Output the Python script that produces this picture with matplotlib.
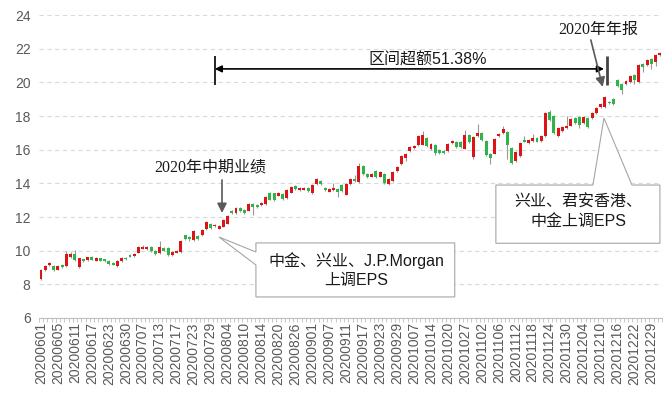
import numpy as np
import pandas as pd
import matplotlib
matplotlib.use('Agg')
import matplotlib.pyplot as plt
from matplotlib.patches import Polygon

plt.rcParams['font.family'] = ['Liberation Sans', 'Noto Sans CJK SC']

# HK trading days, Jun-Dec 2020
hk_holidays = ['2020-06-25', '2020-07-01', '2020-10-01', '2020-10-02',
               '2020-10-13', '2020-10-26', '2020-12-25']
dates = pd.bdate_range('2020-06-01', '2020-12-31')
dates = dates[~dates.isin(pd.to_datetime(hk_holidays))]
labels = list(dates.strftime('%Y%m%d'))

# daily prices
opens = [8.30, 8.85, 9.12, 9.08, 8.88, 9.14, 9.08, 9.60, 9.78, 9.00,
         9.48, 9.44, 9.62, 9.40, 9.54, 9.48, 9.40, 9.26, 9.08, 9.38,
         9.56, 9.76, 9.68, 9.88, 10.12, 10.08, 10.20, 10.00, 9.86, 10.16,
         10.16, 9.74, 9.88, 9.92, 10.92, 10.80, 10.62, 10.88, 10.94, 11.26,
         11.58, 11.44, 11.30, 11.42, 11.60, 12.36, 12.26, 12.52, 12.42, 12.38,
         12.80, 12.74, 12.70, 12.76, 13.40, 13.40, 13.26, 13.34, 13.10, 13.44,
         13.82, 13.60, 13.62, 13.70, 13.40, 13.96, 14.12, 13.74, 13.50, 13.60,
         13.64, 13.88, 13.32, 13.94, 14.24, 14.08, 15.04, 14.54, 14.40, 14.76,
         14.40, 14.58, 13.94, 14.14, 14.74, 15.14, 15.50, 15.90, 16.10, 16.26,
         16.30, 16.70, 16.06, 16.26, 16.00, 15.92, 15.92, 16.40, 16.46, 16.46,
         16.06, 16.86, 15.56, 16.80, 17.00, 16.52, 15.72, 15.76, 16.80, 17.00,
         17.06, 16.08, 15.30, 15.62, 16.56, 16.40, 16.50, 16.72, 16.50, 16.82,
         18.24, 18.02, 16.82, 17.12, 17.28, 17.42, 17.88, 17.96, 17.56, 17.88,
         17.88, 18.16, 18.52, 18.52, 18.84, 19.00, 20.16, 19.88, 19.88, 20.02,
         20.44, 20.02, 21.08, 21.02, 21.36, 21.22, 21.62]
closes = [8.88, 9.08, 9.26, 8.85, 9.08, 9.00, 9.78, 9.78, 9.44, 9.54,
          9.36, 9.60, 9.46, 9.58, 9.40, 9.40, 9.20, 9.16, 9.38, 9.56,
          9.50, 9.64, 9.80, 10.20, 10.24, 10.24, 9.96, 9.80, 10.24, 10.00,
          9.74, 9.92, 10.00, 10.60, 10.68, 10.68, 11.14, 10.72, 11.20, 11.68,
          11.36, 11.50, 11.44, 11.80, 12.06, 12.22, 12.52, 12.38, 12.26, 12.80,
          12.60, 12.62, 12.84, 13.20, 13.04, 13.02, 13.40, 13.06, 13.60, 13.76,
          13.66, 13.74, 13.74, 13.54, 13.90, 14.24, 13.94, 13.60, 13.64, 13.70,
          13.46, 13.56, 13.94, 14.28, 14.12, 15.04, 14.58, 14.38, 14.54, 14.40,
          14.66, 14.04, 14.24, 14.70, 15.00, 15.64, 15.76, 16.14, 16.22, 16.84,
          16.90, 16.22, 16.36, 15.82, 15.78, 15.78, 16.32, 16.50, 16.18, 16.14,
          16.86, 16.46, 16.76, 17.02, 16.60, 15.66, 15.52, 16.66, 16.96, 17.20,
          16.26, 15.22, 15.88, 16.42, 16.48, 16.60, 16.72, 16.48, 16.80, 18.16,
          17.76, 17.02, 17.28, 17.36, 17.42, 17.82, 17.56, 17.48, 17.92, 17.36,
          18.16, 18.48, 18.72, 19.12, 18.76, 18.72, 19.76, 19.56, 20.08, 20.36,
          20.12, 21.02, 20.92, 21.32, 21.08, 21.62, 21.76]
highs = [8.92, 9.12, 9.32, 9.12, 9.12, 9.18, 10.00, 9.90, 10.04, 9.58,
         9.52, 9.64, 9.66, 9.62, 9.58, 9.52, 9.44, 9.30, 9.42, 9.60,
         9.62, 9.82, 9.86, 10.28, 10.36, 10.30, 10.26, 10.06, 10.58, 10.22,
         10.20, 9.96, 10.06, 10.64, 10.96, 10.86, 11.20, 10.94, 11.26, 11.74,
         11.64, 11.58, 11.52, 11.86, 12.10, 12.44, 12.58, 12.58, 12.48, 12.86,
         12.86, 12.80, 12.90, 13.26, 13.46, 13.44, 13.46, 13.40, 13.66, 13.82,
         13.88, 13.80, 13.80, 13.76, 13.96, 14.30, 14.18, 13.80, 13.70, 14.02,
         13.70, 13.94, 14.00, 14.34, 14.52, 15.18, 15.10, 14.60, 14.60, 14.82,
         14.72, 14.64, 14.30, 14.76, 15.06, 15.70, 15.82, 16.20, 16.28, 16.90,
         17.10, 16.76, 16.42, 16.32, 16.06, 15.98, 16.38, 16.56, 16.52, 16.52,
         17.16, 16.92, 16.82, 17.52, 17.06, 16.58, 15.78, 16.72, 17.02, 17.40,
         17.12, 16.14, 15.94, 16.48, 16.82, 16.66, 16.92, 16.78, 16.86, 18.22,
         18.36, 18.08, 17.34, 17.42, 18.02, 17.88, 17.94, 18.02, 17.98, 17.94,
         18.22, 18.54, 18.78, 19.18, 18.90, 19.06, 20.22, 19.94, 20.14, 20.42,
         20.50, 21.08, 21.14, 21.38, 21.42, 21.68, 21.82]
lows = [8.25, 8.82, 9.10, 8.82, 8.85, 8.98, 9.05, 9.55, 9.40, 8.96,
        9.32, 9.40, 9.42, 9.38, 9.36, 9.30, 9.16, 9.12, 9.05, 9.34,
        9.46, 9.60, 9.64, 9.84, 10.08, 10.04, 9.92, 9.76, 9.82, 9.96,
        9.70, 9.70, 9.84, 9.88, 10.62, 10.60, 10.58, 10.66, 10.90, 11.22,
        11.30, 11.40, 11.26, 11.38, 11.56, 12.16, 12.20, 12.32, 12.20, 12.34,
        12.10, 12.56, 12.66, 12.72, 13.00, 12.96, 13.22, 13.00, 13.06, 13.40,
        13.60, 13.56, 13.58, 13.50, 13.36, 13.92, 13.88, 13.56, 13.46, 13.56,
        13.20, 13.50, 13.28, 13.90, 14.08, 14.04, 14.52, 14.34, 14.36, 14.34,
        14.36, 13.98, 13.90, 14.10, 14.70, 15.10, 15.30, 15.86, 16.06, 16.22,
        16.26, 16.16, 16.00, 15.66, 15.72, 15.72, 15.88, 16.36, 16.12, 16.08,
        16.02, 16.40, 15.46, 16.76, 16.54, 15.60, 15.16, 15.72, 16.76, 16.96,
        15.46, 15.16, 15.26, 15.58, 16.44, 16.36, 16.46, 16.44, 16.46, 16.78,
        17.70, 16.96, 16.78, 17.08, 17.24, 17.38, 17.50, 17.30, 17.52, 17.30,
        17.84, 18.12, 18.48, 18.48, 18.70, 18.66, 19.70, 19.28, 19.84, 19.98,
        19.90, 19.98, 20.60, 20.98, 20.80, 21.00, 21.58]

RED = '#dc1317'
GREEN = '#2db54a'
GRAY = '#595959'

fig = plt.figure(figsize=(6.69, 3.96), dpi=100)
ax = fig.add_axes([0.0581, 0.197, 0.9315, 0.765])

x = np.arange(len(labels))
o = np.array(opens)
c = np.array(closes)
colors = np.where(c >= o, RED, GREEN)

ax.vlines(x, lows, highs, color='#999999', lw=0.8, zorder=2)
ax.bar(x, np.maximum(np.abs(c - o), 0.05), bottom=np.minimum(o, c),
       width=0.7, color=colors, linewidth=0, zorder=3)

ax.set_xlim(-0.5, len(x) - 0.5)
ax.set_ylim(6, 24)
ax.set_yticks(range(6, 25, 2))
ax.yaxis.grid(True, ls=(0, (4, 3)), color='#d9d9d9', lw=0.8)
ax.set_axisbelow(True)
for s in ['left', 'right', 'top']:
    ax.spines[s].set_visible(False)
ax.spines['bottom'].set_color('#bfbfbf')
ax.tick_params(axis='y', length=0, labelsize=10, labelcolor=GRAY, pad=6)

ax.set_xticks(x[::4])
ax.set_xticklabels(labels[::4], rotation=90, fontsize=10, color=GRAY)
ax.set_xticks(np.arange(len(x) + 1) - 0.5, minor=True)
ax.tick_params(axis='x', which='major', length=0, pad=3)
ax.tick_params(axis='x', which='minor', length=3, color='#bfbfbf')

# interval excess return
ax.vlines(41, 19.84, 21.57, color='black', lw=1.2)
ax.vlines(133.6, 19.84, 21.57, color='#444444', lw=2)
ax.annotate('', xy=(132.8, 20.8), xytext=(41, 20.8),
            arrowprops=dict(arrowstyle='<|-|>', color='black', lw=1.2,
                            mutation_scale=10, shrinkA=0, shrinkB=0))
ax.text(91.3, 21.33, '区间超额51.38%', ha='center', va='center',
        fontsize=11.5, color='#1a1a1a')

# event arrows
ax.text(39.9, 14.97, '2020年中期业绩', ha='center', va='center', fontsize=11.5,
        color='#1a1a1a', family=['Liberation Serif', 'Noto Sans CJK SC'])
ax.annotate('', xy=(42.7, 12.24), xytext=(42.7, 14.2),
            arrowprops=dict(arrowstyle='-|>', color=GRAY, lw=1.2,
                            mutation_scale=14, shrinkA=0, shrinkB=0))
ax.text(131.4, 23.1, '2020年年报', ha='center', va='center', fontsize=11.5,
        color='#1a1a1a', family=['Liberation Serif', 'Noto Sans CJK SC'])
ax.annotate('', xy=(132.5, 19.73), xytext=(129.7, 22.52),
            arrowprops=dict(arrowstyle='-|>', color=GRAY, lw=1.2,
                            mutation_scale=14, shrinkA=0, shrinkB=0))

# callout boxes
box1 = [(50.7, 10.46), (97.6, 10.46), (97.6, 7.25), (50.7, 7.25),
        (50.7, 9.15), (42.0, 10.81), (50.7, 9.92)]
box2 = [(107.3, 13.90), (130.2, 13.90), (132.8, 17.88), (139.4, 13.90),
        (146.0, 13.90), (146.0, 10.44), (107.3, 10.44)]
for pts in (box1, box2):
    ax.add_patch(Polygon(pts, closed=True, facecolor='white',
                         edgecolor='#a6a6a6', lw=0.8, zorder=5, clip_on=False))
ax.text(74.3, 9.39, '中金、兴业、J.P.Morgan', ha='center', va='center',
        fontsize=11.5, color='#1a1a1a', zorder=6)
ax.text(74.3, 8.2, '上调EPS', ha='center', va='center',
        fontsize=11.5, color='#1a1a1a', zorder=6)
ax.text(126.7, 12.91, '兴业、君安香港、', ha='center', va='center',
        fontsize=11.5, color='#1a1a1a', zorder=6)
ax.text(126.7, 11.72, '中金上调EPS', ha='center', va='center',
        fontsize=11.5, color='#1a1a1a', zorder=6)

fig.savefig('out.png', dpi=100)
